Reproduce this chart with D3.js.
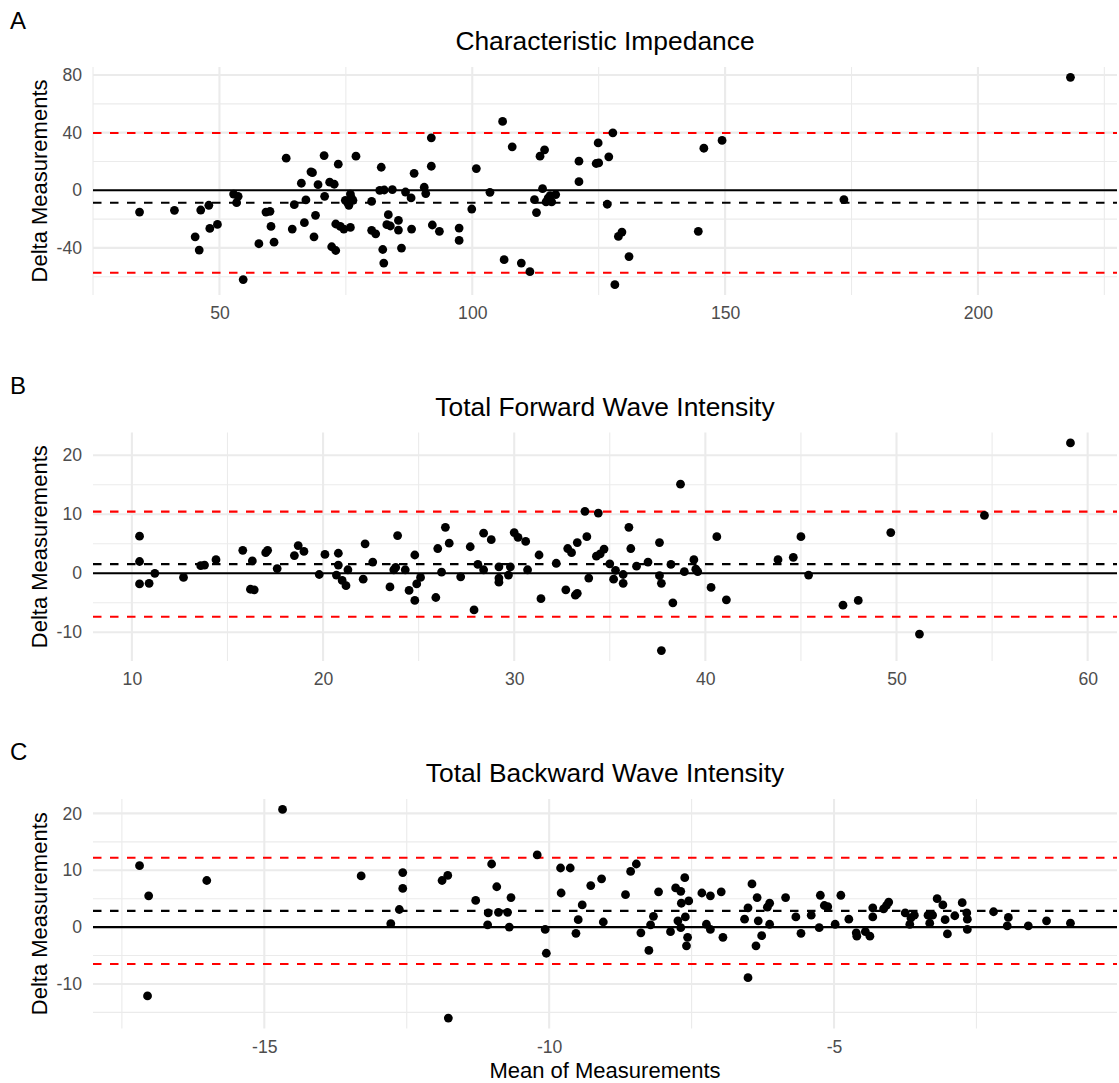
<!DOCTYPE html>
<html>
<head>
<meta charset="utf-8">
<script src="https://cdn.jsdelivr.net/npm/d3@7"></script>
<style>
  html, body { margin: 0; padding: 0; background: #ffffff; }
  svg { display: block; }
</style>
</head>
<body>
<svg id="chart" width="1119" height="1083"></svg>
<script>
// ---- A: Characteristic impedance (mean of the two readings vs. their difference)
const impMean = [34.2,41.1,45.2,46.0,46.3,47.9,48.1,49.6,52.8,53.7,
  53.4,54.7,57.8,59.2,60.0,60.2,60.8,63.2,64.4,64.8,
  66.2,66.8,67.1,68.1,68.4,68.7,69.0,69.5,70.7,70.8,
  71.8,72.2,72.7,73.0,73.0,73.5,73.9,74.6,74.9,75.4,
  75.6,75.9,76.1,76.4,75.9,77.0,80.1,80.1,80.9,82.0,
  81.7,82.6,82.3,82.5,83.4,83.1,83.8,84.2,85.4,85.4,
  86.0,86.8,87.9,88.0,88.5,90.5,90.8,91.9,91.9,92.1,
  93.5,97.4,97.4,99.9,100.8,103.5,106.0,106.3,107.9,109.7,
  111.4,112.3,112.7,113.4,113.9,114.3,114.6,115.4,115.7,116.5,
  115.0,121.1,121.1,124.5,125.0,124.9,126.7,127.0,127.8,128.9,
  129.6,128.2,131.0,144.7,145.8,149.4,173.5,218.3];
const impDiff = [-15.1,-13.9,-32.3,-41.5,-13.7,-10.4,-26.5,-23.7,-2.6,-4.2,
  -8.6,-62.0,-37.1,-15.1,-14.6,-25.1,-36.0,22.3,-26.9,-10.0,
  4.9,-22.5,-6.7,12.8,12.2,-32.3,-17.4,3.9,24.1,-4.2,
  5.6,-39.2,4.2,-41.8,-23.4,18.1,-25.1,-26.9,-7.0,-8.8,
  -10.4,-2.6,-5.3,-7.0,-25.8,23.7,-7.7,-27.8,-30.2,16.0,
  0.0,0.2,-41.1,-50.5,-16.9,-23.9,-24.8,0.5,-20.9,-27.6,
  -40.1,-1.2,-5.3,-26.9,11.8,2.1,-2.3,36.4,16.7,-24.1,
  -28.5,-26.2,-34.8,-13.0,15.1,-1.4,47.8,-48.2,30.2,-50.5,
  -56.5,-6.5,-15.5,23.7,1.2,28.1,-8.1,-3.7,-8.1,-3.0,
  -5.5,20.2,6.0,18.6,19.0,32.9,-9.7,23.2,39.9,-32.0,
  -29.0,-65.5,-46.0,-28.5,29.2,34.6,-6.5,78.4];
const impLimits = [-57.2, -8.7, 39.8];      // lower limit, bias, upper limit
const impXTicks = [50, 100, 150, 200];
const impXMinor = [25, 75, 125, 175, 225];
const impYTicks = [-40, 0, 40, 80];
const impYMinor = [-60, -20, 20, 60];

// ---- B: Total forward wave intensity
const fwdMean = [10.4,10.4,10.4,10.9,11.2,12.7,13.6,13.8,14.4,15.8,
  16.2,16.4,16.3,17.0,17.1,17.6,18.5,18.7,19.0,19.8,
  20.1,20.8,20.8,20.7,21.0,21.2,21.3,22.1,22.2,22.6,
  23.5,23.7,23.9,23.8,24.3,24.5,24.8,24.8,24.9,25.1,
  25.9,26.0,26.2,26.4,26.6,27.2,27.7,27.9,28.1,28.4,
  28.4,28.8,29.2,29.2,29.2,29.7,29.8,30.0,30.2,30.6,
  30.7,31.3,31.4,32.2,32.7,32.8,33.0,33.2,33.3,33.3,
  33.7,33.8,33.9,34.3,34.4,34.5,34.7,35.0,35.2,35.3,
  35.7,35.7,36.0,36.1,36.4,37.0,37.6,37.6,37.7,37.7,
  38.2,38.3,38.7,38.9,39.4,39.5,39.6,40.3,40.6,41.1,
  43.8,44.6,45.0,45.4,47.2,48.0,49.7,51.2,54.6,59.1];
const fwdDiff = [6.3,2.0,-1.8,-1.7,0.0,-0.7,1.3,1.4,2.3,3.9,
  -2.7,-2.8,2.1,3.5,3.9,0.8,3.0,4.7,3.7,-0.2,
  3.2,3.4,1.4,-0.3,-1.2,-2.1,0.6,-1.0,5.0,1.9,
  -2.3,0.6,6.4,1.0,0.6,-2.9,3.1,-4.6,-1.8,-0.7,
  -4.1,4.2,0.2,7.8,5.1,-0.6,4.5,-6.2,1.5,6.8,
  0.6,5.7,1.1,-0.8,-1.5,-0.3,1.1,6.9,6.1,5.4,
  0.6,3.1,-4.3,1.7,-2.8,4.2,3.5,-3.7,-3.4,5.2,
  10.5,6.2,-0.8,2.9,10.2,3.3,4.1,1.6,-1.0,0.5,
  -1.7,-0.2,7.8,4.2,1.2,1.9,5.2,-0.4,-1.7,-13.1,
  1.5,-5.0,15.1,0.3,2.3,0.7,0.3,-2.4,6.2,-4.5,
  2.3,2.7,6.2,-0.3,-5.4,-4.6,6.9,-10.3,9.8,22.1];
const fwdLimits = [-7.35, 1.55, 10.45];
const fwdXTicks = [10, 20, 30, 40, 50, 60];
const fwdXMinor = [15, 25, 35, 45, 55];
const fwdYTicks = [-10, 0, 10, 20];
const fwdYMinor = [-5, 5, 15];

// ---- C: Total backward wave intensity
const bwdMean = [-17.19,-17.03,-17.05,-16.01,-14.68,-13.30,-12.78,-12.63,-12.57,-12.57,
  -11.88,-11.78,-11.77,-11.29,-11.07,-11.08,-11.01,-10.92,-10.89,-10.73,
  -10.67,-10.70,-10.21,-10.07,-10.05,-9.80,-9.79,-9.63,-9.53,-9.49,
  -9.42,-9.27,-9.08,-9.05,-8.66,-8.57,-8.47,-8.39,-8.25,-8.22,
  -8.17,-8.08,-7.87,-7.78,-7.69,-7.74,-7.68,-7.69,-7.62,-7.61,
  -7.57,-7.59,-7.55,-7.32,-7.24,-7.17,-7.17,-6.98,-6.95,-6.57,
  -6.51,-6.51,-6.44,-6.35,-6.33,-6.37,-6.27,-6.17,-6.13,-6.13,
  -5.85,-5.67,-5.58,-5.40,-5.26,-5.24,-5.17,-5.11,-4.98,-4.88,
  -4.74,-4.61,-4.60,-4.45,-4.37,-4.32,-4.32,-4.13,-4.08,-4.04,
  -3.75,-3.67,-3.65,-3.59,-3.35,-3.32,-3.27,-3.19,-3.09,-3.05,
  -3.01,-2.88,-2.75,-2.67,-2.66,-2.66,-2.20,-1.94,-1.96,-1.59,-1.27,-0.85];
const bwdDiff = [10.8,5.5,-12.1,8.2,20.7,9.0,0.6,3.1,9.6,6.8,
  8.2,9.1,-16.0,4.7,2.5,0.4,11.1,7.1,2.6,2.6,
  5.2,0.0,12.7,-0.4,-4.6,10.4,6.0,10.4,-1.1,1.3,
  3.9,7.3,8.5,0.9,5.7,9.8,11.1,-1.0,-4.1,0.4,
  1.9,6.2,-0.8,6.9,6.3,1.1,4.2,-0.1,8.7,1.8,
  -1.8,-3.3,4.6,6.0,0.5,5.5,-0.4,6.2,-1.8,1.4,
  -8.9,3.4,7.6,5.2,1.1,-3.3,-1.5,3.5,4.2,0.5,
  5.2,1.8,-1.1,2.1,-0.1,5.6,3.8,3.6,0.5,5.6,
  1.4,-1.0,-1.6,-0.8,-1.6,1.8,3.4,3.2,3.8,4.4,
  2.5,0.5,1.6,2.1,2.1,0.7,2.1,5.0,3.9,1.3,
  -1.2,2.0,4.3,2.5,1.4,-0.4,2.7,1.7,0.2,0.2,1.1,0.7];
const bwdLimits = [-6.5, 2.85, 12.2];
const bwdXTicks = [-15, -10, -5];
const bwdXMinor = [-17.5, -12.5, -7.5, -2.5];
const bwdYTicks = [-10, 0, 10, 20];
const bwdYMinor = [-15, -5, 5, 15];

const panelTags = ["A", "B", "C"];
const panelTitles = ["Characteristic Impedance", "Total Forward Wave Intensity", "Total Backward Wave Intensity"];
const yTitle = "Delta Measurements";
const xTitle = "Mean of Measurements";

// ---- layout
const FONT = "'Liberation Sans', Arial, Helvetica, sans-serif";
const LEFT = 93, RIGHT = 1117;
const GRID = "#EBEBEB";
const svg = d3.select("#chart");

const panels = [
  { mean: impMean, diff: impDiff, limits: impLimits, xt: impXTicks, xm: impXMinor, yt: impYTicks, ym: impYMinor,
    top: 67, bottom: 295, tagY: 28.5, titleY: 49.5 },
  { mean: fwdMean, diff: fwdDiff, limits: fwdLimits, xt: fwdXTicks, xm: fwdXMinor, yt: fwdYTicks, ym: fwdYMinor,
    top: 432.5, bottom: 661, tagY: 394, titleY: 415.5 },
  { mean: bwdMean, diff: bwdDiff, limits: bwdLimits, xt: bwdXTicks, xm: bwdXMinor, yt: bwdYTicks, ym: bwdYMinor,
    top: 799, bottom: 1028.5, tagY: 759.5, titleY: 781.5 }
];

// ggplot-style 5% expansion of the data range
function expand(ext) {
  const r = ext[1] - ext[0];
  return [ext[0] - 0.05 * r, ext[1] + 0.05 * r];
}

panels.forEach((p, i) => {
  const g = svg.append("g");
  const x = d3.scaleLinear().domain(expand(d3.extent(p.mean))).range([LEFT, RIGHT]);
  const y = d3.scaleLinear().domain(expand(d3.extent(p.diff))).range([p.bottom, p.top]);
  const inside = (s) => (v) => v >= s.domain()[0] - 1e-6 && v <= s.domain()[1] + 1e-6;

  // grid: minor first, then major
  const grid = g.append("g");
  grid.selectAll("line.xm").data(p.xm.filter(inside(x))).join("line")
    .attr("x1", d => x(d)).attr("x2", d => x(d)).attr("y1", p.top).attr("y2", p.bottom)
    .attr("stroke", GRID).attr("stroke-width", 1.1);
  grid.selectAll("line.ym").data(p.ym.filter(inside(y))).join("line")
    .attr("x1", LEFT).attr("x2", RIGHT).attr("y1", d => y(d)).attr("y2", d => y(d))
    .attr("stroke", GRID).attr("stroke-width", 1.1);
  grid.selectAll("line.xt").data(p.xt.filter(inside(x))).join("line")
    .attr("x1", d => x(d)).attr("x2", d => x(d)).attr("y1", p.top).attr("y2", p.bottom)
    .attr("stroke", GRID).attr("stroke-width", 2.1);
  grid.selectAll("line.yt").data(p.yt.filter(inside(y))).join("line")
    .attr("x1", LEFT).attr("x2", RIGHT).attr("y1", d => y(d)).attr("y2", d => y(d))
    .attr("stroke", GRID).attr("stroke-width", 2.1);

  // zero line, bias and limits of agreement
  g.append("line").attr("x1", LEFT).attr("x2", RIGHT).attr("y1", y(0)).attr("y2", y(0))
    .attr("stroke", "#000").attr("stroke-width", 2.1);
  g.append("line").attr("x1", LEFT).attr("x2", RIGHT).attr("y1", y(p.limits[1])).attr("y2", y(p.limits[1]))
    .attr("stroke", "#000").attr("stroke-width", 2.1).attr("stroke-dasharray", "8.5,8.5");
  [p.limits[0], p.limits[2]].forEach(v => {
    g.append("line").attr("x1", LEFT).attr("x2", RIGHT).attr("y1", y(v)).attr("y2", y(v))
      .attr("stroke", "#FF0000").attr("stroke-width", 2.1).attr("stroke-dasharray", "8.5,8.5");
  });

  // points
  g.append("g").selectAll("circle").data(p.mean.map((m, k) => [m, p.diff[k]])).join("circle")
    .attr("cx", d => x(d[0])).attr("cy", d => y(d[1])).attr("r", 4.4).attr("fill", "#000");

  // axes (text only, no ticks or domain line)
  const ax = g.append("g").attr("transform", `translate(0,${p.bottom})`)
    .call(d3.axisBottom(x).tickValues(p.xt).tickSize(0).tickPadding(12).tickFormat(d => String(d)));
  const ay = g.append("g").attr("transform", `translate(${LEFT},0)`)
    .call(d3.axisLeft(y).tickValues(p.yt).tickSize(0).tickPadding(11).tickFormat(d => String(d)));
  [ax, ay].forEach(a => {
    a.select(".domain").remove();
    a.attr("font-family", FONT).attr("font-size", 17.6);
    a.selectAll("text").attr("fill", "#4D4D4D");
  });

  // tag, title, y-axis title
  g.append("text").attr("x", 10).attr("y", p.tagY).text(panelTags[i])
    .attr("font-family", FONT).attr("font-size", 24).attr("fill", "#000");
  g.append("text").attr("x", (LEFT + RIGHT) / 2).attr("y", p.titleY).attr("text-anchor", "middle")
    .text(panelTitles[i]).attr("font-family", FONT).attr("font-size", 26.4).attr("fill", "#000");
  g.append("text").attr("transform", `translate(47,${(p.top + p.bottom) / 2}) rotate(-90)`)
    .attr("text-anchor", "middle").text(yTitle)
    .attr("font-family", FONT).attr("font-size", 22).attr("fill", "#000");

  if (i === panels.length - 1) {
    g.append("text").attr("x", (LEFT + RIGHT) / 2).attr("y", 1078).attr("text-anchor", "middle")
      .text(xTitle).attr("font-family", FONT).attr("font-size", 22).attr("fill", "#000");
  }
});
</script>
</body>
</html>
